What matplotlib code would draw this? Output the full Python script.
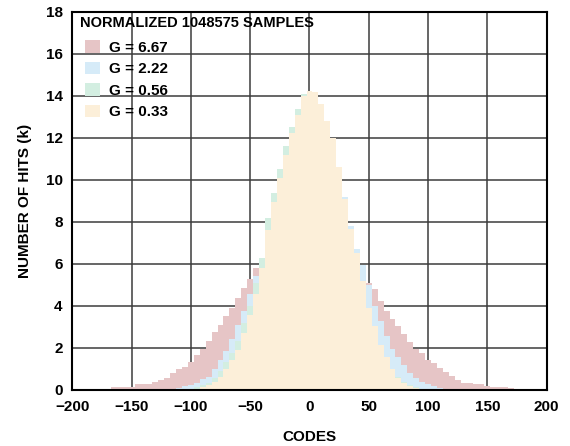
import numpy as np
import matplotlib
matplotlib.use("Agg")
import matplotlib.pyplot as plt
from matplotlib.patches import Patch

plt.rcParams['font.family'] = ['Liberation Sans', 'DejaVu Sans']
plt.rcParams['font.weight'] = 'bold'

TITLE = "NORMALIZED 1048575 SAMPLES"
LABELS = ["G = 6.67", "G = 2.22", "G = 0.56", "G = 0.33"]
COLORS = ["#E6C5C6", "#D6EBF8", "#D3EEE1", "#FCEFD9"]

# bin centres (codes), bin width 5
CODES = list(range(-165, 171, 5))

G667 = [0.13, 0.13, 0.13, 0.15, 0.27, 0.27, 0.30, 0.40, 0.48, 0.55,
        0.80, 0.98, 1.10, 1.35, 1.65, 1.95, 2.35, 2.75, 3.10, 3.50,
        3.90, 4.40, 4.85, 5.30, 5.80, 6.20, 8.00, 9.10, 10.20, 11.30,
        12.20, 13.10, 13.80, 14.00, 13.90, 13.30, 12.50, 11.60, 10.40, 9.00,
        7.70, 6.50, 5.90, 5.10, 4.80, 4.25, 3.78, 3.40, 3.04, 2.67,
        2.30, 1.95, 1.75, 1.43, 1.27, 1.03, 0.87, 0.67, 0.48, 0.35,
        0.35, 0.27, 0.27, 0.20, 0.13, 0.13, 0.13, 0.10]

G222 = [0, 0, 0, 0, 0, 0, 0, 0, 0, 0,
        0.05, 0.10, 0.17, 0.25, 0.35, 0.50, 0.62, 0.98, 1.43, 1.87,
        2.45, 3.10, 3.75, 4.55, 5.45, 6.20, 8.10, 9.30, 10.40, 11.50,
        12.40, 13.30, 14.00, 14.10, 14.10, 13.50, 12.70, 11.90, 10.60, 9.20,
        7.80, 6.70, 5.95, 4.98, 4.00, 3.29, 2.57, 1.93, 1.56, 1.20,
        0.82, 0.55, 0.40, 0.28, 0.18, 0.10, 0.05, 0, 0, 0,
        0, 0, 0, 0, 0, 0, 0, 0]

G056 = [0, 0, 0, 0, 0, 0, 0, 0, 0, 0,
        0, 0, 0.03, 0.07, 0.13, 0.22, 0.35, 0.55, 0.89, 1.31,
        1.74, 2.33, 3.17, 4.00, 5.10, 6.30, 8.20, 9.40, 10.50, 11.60,
        12.50, 13.40, 14.10, 14.20, 14.10, 13.50, 12.70, 11.90, 10.50, 9.00,
        7.60, 6.40, 5.10, 3.85, 3.00, 2.10, 1.50, 1.00, 0.60, 0.37,
        0.22, 0.12, 0.05, 0.02, 0, 0, 0, 0, 0, 0,
        0, 0, 0, 0, 0, 0, 0, 0]

G033 = [0, 0, 0, 0, 0, 0, 0, 0, 0, 0,
        0, 0, 0, 0, 0.05, 0.12, 0.22, 0.38, 0.60, 1.00,
        1.45, 1.90, 2.69, 3.55, 4.57, 5.80, 7.60, 8.93, 10.10, 11.20,
        12.25, 13.10, 14.00, 14.25, 14.20, 13.60, 12.80, 12.00, 10.60, 9.10,
        7.67, 6.50, 5.20, 3.90, 3.04, 2.15, 1.55, 1.00, 0.58, 0.35,
        0.20, 0.10, 0.04, 0, 0, 0, 0, 0, 0, 0,
        0, 0, 0, 0, 0, 0, 0, 0]

SERIES = [G667, G222, G056, G033]
BIN_W = 5

fig = plt.figure(figsize=(5.70, 4.46), dpi=100)
ax = fig.add_axes([0.1268, 0.1256, 0.8323, 0.8475])

edges = np.append(np.array(CODES) - BIN_W / 2, CODES[-1] + BIN_W / 2)
for vals, col in zip(SERIES, COLORS):
    ax.stairs(vals, edges, fill=True, color=col, linewidth=0, zorder=2)

ax.set_xlim(-200, 200)
ax.set_ylim(0, 18)
ax.set_xticks(range(-200, 201, 50))
ax.set_yticks(range(0, 19, 2))
ax.set_axisbelow(True)
ax.grid(True, color="#3c3c3c", linewidth=1.1, zorder=0)
ax.tick_params(length=0, pad=7, labelsize=11)
for lab in ax.get_xticklabels() + ax.get_yticklabels():
    lab.set_fontweight('bold')
for s in ax.spines.values():
    s.set_linewidth(1.5)
    s.set_color("black")
    s.set_zorder(5)

ax.set_xlabel("CODES", fontsize=11, fontweight='bold', labelpad=12)
ax.set_ylabel("NUMBER OF HITS (k)", fontsize=11, fontweight='bold', labelpad=10)

ax.text(0.016, 0.971, TITLE, transform=ax.transAxes, ha='left', va='center',
        fontsize=10.5, fontweight='bold', zorder=6)

handles = [Patch(facecolor=c, edgecolor='none') for c in COLORS]
leg = ax.legend(handles, LABELS, loc='upper left', bbox_to_anchor=(0.027, 0.925),
                frameon=False, borderpad=0, borderaxespad=0,
                handlelength=0.95, handleheight=0.85, handletextpad=0.6,
                labelspacing=0.47, prop={'size': 11, 'weight': 'bold'})
leg.set_zorder(6)

fig.savefig("out.png", dpi=100)
